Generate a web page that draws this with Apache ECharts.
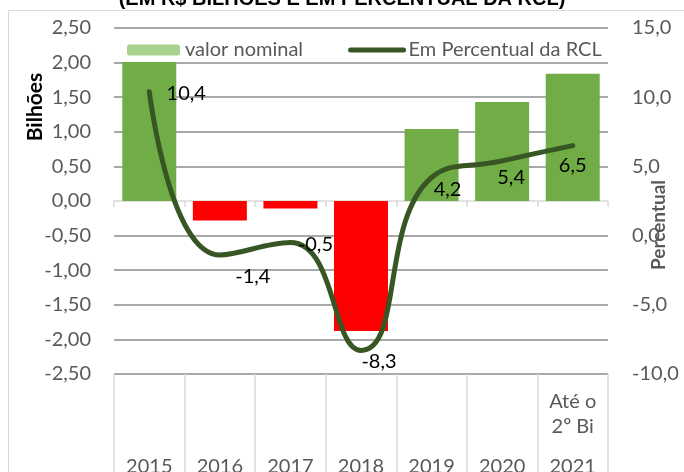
<!DOCTYPE html>
<html>
<head>
<meta charset="utf-8">
<title>Valor nominal e percentual da RCL</title>
<script src="https://cdn.jsdelivr.net/npm/echarts@6/dist/echarts.min.js"></script>
<style>
  html, body { margin: 0; padding: 0; background: #fff; }
  #chart1 { width: 684px; height: 472px; }
</style>
</head>
<body>
<div id="chart1"></div>
<script>
// dados
var anos = ['2015', '2016', '2017', '2018', '2019', '2020', '2021'];
var subRotulos = ['', '', '', '', '', '', 'Até o\n2º Bi'];
var valorNominal = [2.01, -0.28, -0.11, -1.88, 1.04, 1.43, 1.84];
var percentualRcl = [10.4, -1.4, -0.5, -8.3, 4.2, 5.4, 6.5];

// deslocamento dos rótulos da linha (só estilo)
var offsetRotulos = [[37, 2], [33, 22], [25, 2], [18, 11], [16, 12], [9, 17], [0, 20]];

var fonte = 'Lato';
var cinzaTexto = '#595959';

function virgula(v, casas) {
    return v.toFixed(casas).replace('.', ',');
}

// linha de grade no zero fica escondida (o eixo passa por cima)
var coresGrade = [];
for (var i = 0; i < 11; i++) {
    coresGrade.push(i === 5 ? 'rgba(0,0,0,0)' : '#8c8c8c');
}

var myChart = echarts.init(document.getElementById('chart1'));

var option = {
    backgroundColor: '#fff',
    animation: false,
    title: {
        text: '(EM R$ BILHÕES E EM PERCENTUAL DA RCL)',
        left: 'center',
        top: -11,
        padding: 0,
        textStyle: {
            fontFamily: 'Liberation Sans',
            fontWeight: 'bold',
            fontSize: 20,
            color: '#000'
        }
    },
    graphic: [
        {
            type: 'rect',
            shape: { x: 8.5, y: 10.5, width: 700, height: 500 },
            style: { fill: 'none', stroke: '#d9d9d9', lineWidth: 1 },
            z: -1
        },
        {
            type: 'text',
            x: 35, y: 107,
            rotation: Math.PI / 2,
            style: {
                text: 'Bilhões',
                fontFamily: fonte, fontWeight: 'bold', fontSize: 21,
                fill: '#000', textAlign: 'center', textVerticalAlign: 'middle'
            }
        },
        {
            type: 'text',
            x: 659, y: 225,
            rotation: Math.PI / 2,
            style: {
                text: 'Percentual',
                fontFamily: fonte, fontWeight: 'bold', fontSize: 19,
                fill: cinzaTexto, textAlign: 'center', textVerticalAlign: 'middle'
            }
        }
    ],
    legend: {
        left: 122,
        top: 35,
        itemWidth: 53,
        itemHeight: 11,
        itemGap: 45,
        textStyle: { fontFamily: fonte, fontSize: 20, color: cinzaTexto },
        lineStyle: { width: 5, cap: 'round' },
        data: [
            { name: 'valor nominal', itemStyle: { color: '#a9d18e' } },
            { name: 'Em Percentual da RCL', lineStyle: { width: 5, cap: 'round' } }
        ]
    },
    grid: { left: 114, right: 76, top: 28, bottom: 98, outerBoundsMode: 'none' },
    xAxis: [
        {
            type: 'category',
            data: anos,
            position: 'bottom',
            axisLine: { onZero: true, onZeroAxisIndex: 0, lineStyle: { color: '#d9d9d9', width: 1.5 } },
            axisTick: { show: true, interval: 0, length: 6, lineStyle: { color: '#d9d9d9', width: 1.5 } },
            axisLabel: { show: false },
            splitLine: { show: false }
        },
        {
            type: 'category',
            data: anos,
            position: 'bottom',
            axisLine: { show: false, onZero: false },
            axisTick: { show: true, interval: 0, length: 98, lineStyle: { color: '#d9d9d9', width: 1.5 } },
            axisLabel: {
                interval: 0, margin: 83,
                fontFamily: fonte, fontSize: 20, color: cinzaTexto
            },
            splitLine: { show: false }
        },
        {
            type: 'category',
            data: subRotulos,
            position: 'bottom',
            axisLine: { show: false, onZero: false },
            axisTick: { show: false },
            axisLabel: {
                interval: 0, margin: 15, lineHeight: 25,
                fontFamily: fonte, fontSize: 20, color: cinzaTexto
            },
            splitLine: { show: false }
        }
    ],
    yAxis: [
        {
            type: 'value',
            position: 'left',
            min: -2.5,
            max: 2.5,
            interval: 0.5,
            axisLine: { show: false },
            axisTick: { show: false },
            axisLabel: {
                margin: 23,
                fontFamily: fonte, fontSize: 20, color: cinzaTexto,
                formatter: function (v) { return virgula(v, 2); }
            },
            splitLine: { show: true, lineStyle: { color: coresGrade, width: 1.5 } }
        },
        {
            type: 'value',
            position: 'right',
            min: -10,
            max: 15,
            interval: 5,
            axisLine: { show: false },
            axisTick: { show: false },
            axisLabel: {
                margin: 24,
                fontFamily: fonte, fontSize: 20, color: cinzaTexto,
                formatter: function (v) { return virgula(v, 1); }
            },
            splitLine: { show: false }
        }
    ],
    series: [
        {
            name: 'valor nominal',
            type: 'bar',
            xAxisIndex: 0,
            yAxisIndex: 0,
            barWidth: 54,
            data: valorNominal,
            itemStyle: {
                color: function (p) { return p.value < 0 ? '#ff0000' : '#70ad47'; }
            }
        },
        {
            name: 'Em Percentual da RCL',
            type: 'line',
            xAxisIndex: 0,
            yAxisIndex: 1,
            smooth: 0.5,
            symbol: 'circle',
            symbolSize: 2,
            showSymbol: true,
            itemStyle: { color: 'rgba(0,0,0,0)' },
            lineStyle: { color: '#375623', width: 5, cap: 'round' },
            data: percentualRcl.map(function (v, i) {
                return {
                    value: v,
                    label: { offset: offsetRotulos[i] }
                };
            }),
            label: {
                show: true,
                position: 'inside',
                fontFamily: fonte,
                fontSize: 20,
                color: '#000',
                formatter: function (p) { return virgula(p.value, 1); }
            },
            z: 5
        }
    ]
};

myChart.setOption(option);
</script>
</body>
</html>
